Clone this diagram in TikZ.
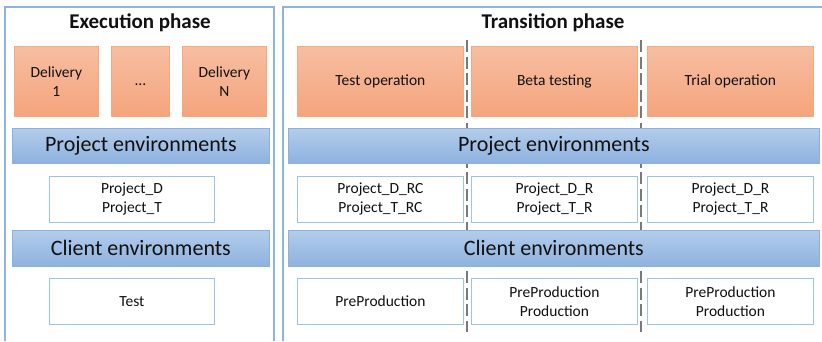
\documentclass[tikz,border=0pt]{standalone}
\usepackage{fontspec}
\setmainfont{Carlito}
\usetikzlibrary{positioning}
\definecolor{panelblue}{HTML}{8EB4E3}
\definecolor{orangetop}{HTML}{F7BEA2}
\definecolor{orangebot}{HTML}{F4A47C}
\definecolor{orangeline}{HTML}{F5A97F}
\definecolor{bluetop}{HTML}{B3CCEA}
\definecolor{bluebot}{HTML}{8DB2DF}
\definecolor{blueline}{HTML}{8AB1E0}
\definecolor{boxline}{HTML}{9DC3E6}
\definecolor{sepgray}{HTML}{7A7A7A}
\definecolor{ink}{HTML}{111111}
\tikzset{
  x=1pt, y=-1pt,
  panel/.style={draw=panelblue, line width=1.5pt},
  stage/.style={draw=orangeline, line width=0.8pt, top color=orangetop, bottom color=orangebot,
    anchor=north west, inner sep=0pt, align=center, text=ink,
    font=\fontsize{15.5}{18.5}\selectfont},
  envbar/.style={draw=blueline, line width=0.8pt, top color=bluetop, bottom color=bluebot,
    anchor=north west, inner sep=0pt, align=center, text=ink,
    font=\fontsize{22}{26}\selectfont},
  envbox/.style={draw=boxline, line width=0.9pt, fill=white,
    anchor=north west, inner sep=0pt, align=center, text=ink,
    font=\fontsize{15.5}{19}\selectfont},
  phasetitle/.style={font=\fontsize{21}{25}\selectfont\bfseries, text=ink, inner sep=0pt},
  separator/.style={draw=sepgray, line width=2.2pt, dash pattern=on 12pt off 4.5pt},
}
\newcommand{\boxat}[6]{%
  \node[#1, minimum width=#4-#2, minimum height=#5-#3] (#6) at (#2,#3)}
\begin{document}
\begin{tikzpicture}
\useasboundingbox (0,0) rectangle (822,341);

% phase panels (open at the bottom / right)
\draw[panel] (5,341) -- (5,7) -- (274,7) -- (274,341);
\draw[panel] (283,341) -- (283,7) -- (822,7);

% titles
\node[phasetitle] (exectitle) at (140,23) {Execution phase};
\node[phasetitle] (transtitle) at (553,23) {Transition phase};

% stage separators in the transition phase
\coordinate (sepAtop) at (467,40);
\coordinate (sepAbot) at (467,332);
\coordinate (sepBtop) at (641,40);
\coordinate (sepBbot) at (641,332);
\draw[separator] (sepAtop) -- (sepAbot);
\draw[separator] (sepBtop) -- (sepBbot);

% execution phase
\boxat{stage}{14}{46}{98}{116}{del1} {Delivery\\1};
\boxat{stage}{111}{46}{169}{116}{deldots} {\strut\dots};
\boxat{stage}{182}{46}{266}{116}{delN} {Delivery\\N};
\boxat{envbar}{12}{128}{269}{163}{penvL} {Project environments};
\boxat{envbox}{49}{176}{214}{222}{pboxL} {Project\_D\\Project\_T};
\boxat{envbar}{12}{230}{269}{266}{cenvL} {Client environments};
\boxat{envbox}{49}{278}{214}{324}{cboxL} {Test};

% transition phase
\boxat{stage}{297}{46}{463}{116}{testop} {Test operation};
\boxat{stage}{471}{46}{637}{116}{beta} {Beta testing};
\boxat{stage}{647}{46}{813}{116}{trial} {Trial operation};
\boxat{envbar}{288}{128}{819}{163}{penvR} {Project environments};
\boxat{envbox}{297}{176}{463}{222}{pboxA} {Project\_D\_RC\\Project\_T\_RC};
\boxat{envbox}{471}{176}{637}{222}{pboxB} {Project\_D\_R\\Project\_T\_R};
\boxat{envbox}{647}{176}{813}{222}{pboxC} {Project\_D\_R\\Project\_T\_R};
\boxat{envbar}{288}{230}{819}{266}{cenvR} {Client environments};
\boxat{envbox}{297}{278}{463}{324}{cboxA} {PreProduction};
\boxat{envbox}{471}{278}{637}{324}{cboxB} {PreProduction\\Production};
\boxat{envbox}{647}{278}{813}{324}{cboxC} {PreProduction\\Production};
\end{tikzpicture}
\end{document}
